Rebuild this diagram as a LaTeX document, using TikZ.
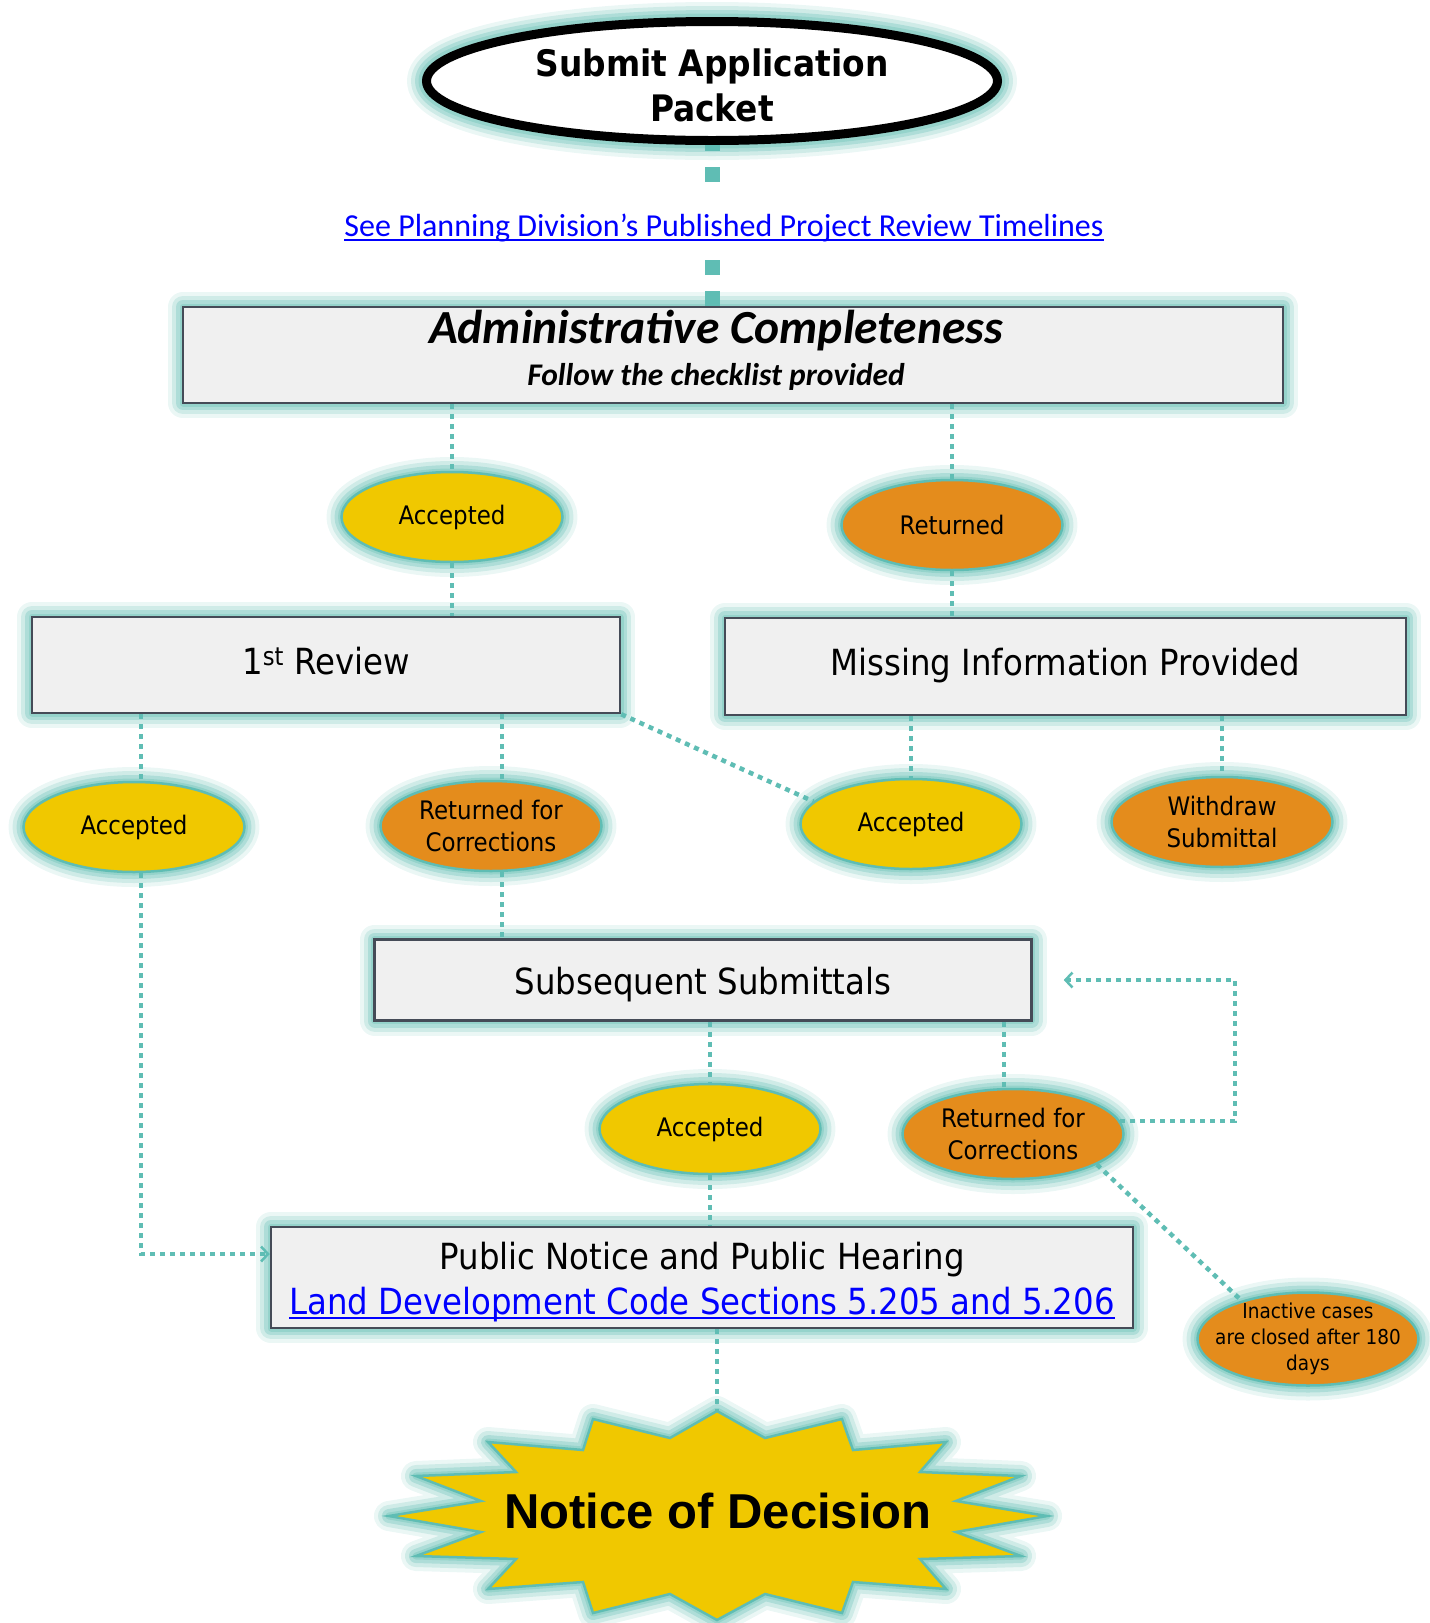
\documentclass[tikz,border=0pt]{standalone}
\usepackage{fontspec}
\usetikzlibrary{arrows.meta,shapes.geometric,calc}
\newfontfamily\tahfont[FakeStretch=0.9]{DejaVu Sans}
\newfontfamily\calfont{Carlito}
\newfontfamily\arifont{Liberation Sans}
\newcommand\myul[2]{\setbox0=\hbox{#2}\rlap{\rule[-#1]{\wd0}{2pt}}\box0}
\newcommand\shiftv[2]{\raisebox{#1}[\height][\depth]{#2}}
\definecolor{glowc}{HTML}{8ED0C8}
\definecolor{tealc}{HTML}{5FBDB4}
\definecolor{yelc}{HTML}{F0C800}
\definecolor{orgc}{HTML}{E48C1C}
\definecolor{boxf}{HTML}{F0F0F0}
\definecolor{boxd}{HTML}{454B57}
\definecolor{linkb}{HTML}{0000FF}
\begin{document}
\begin{tikzpicture}[x=1pt,y=-1pt,
  glow/.style={preaction={draw=glowc,line width=#1+30pt,draw opacity=0.18,line join=round},
               preaction={draw=glowc,line width=#1+22pt,draw opacity=0.3,line join=round},
               preaction={draw=glowc,line width=#1+14pt,draw opacity=0.5,line join=round},
               preaction={draw=glowc,line width=#1+7pt,draw opacity=0.8,line join=round}},
  glow/.default=0pt,
  sapn/.style={glow=9pt, ellipse, draw=black, line width=9pt, fill=white, inner sep=0pt,
               minimum width=571pt, minimum height=119pt, align=center,
               font=\tahfont\bfseries\fontsize{36.5}{45}\selectfont},
  boxn/.style={glow, draw=boxd, line width=2.5pt, fill=boxf, inner sep=0pt,
               font=\tahfont\fontsize{36}{45}\selectfont},
  elln/.style={glow, ellipse, draw=tealc, line width=2.5pt, inner sep=0pt,
               minimum width=221pt, minimum height=90pt, align=center,
               font=\tahfont\fontsize{25.5}{32}\selectfont},
  accn/.style={elln, fill=yelc},
  retn/.style={elln, fill=orgc},
  conn/.style={draw=tealc, line width=4.5pt, dash pattern=on 5pt off 5pt},
  bigconn/.style={draw=tealc, line width=15pt, dash pattern=on 15pt off 16pt, dash phase=9pt},
  arr/.style={-{Straight Barb[length=7pt,width=15pt,line width=2.5pt]}}
]
\useasboundingbox (0,0) rectangle (1430,1623);

% top ellipse
\node[sapn] (sap) at (712,81) {\rule{0pt}{36pt}Submit Application\\Packet};

% boxes
\node[boxn, minimum width=1100pt, minimum height=96pt] (admin) at (733,355) {};
\node[anchor=base, font=\calfont\bfseries\itshape\fontsize{47.5}{50}\selectfont] (admint) at (716,343) {Administrative Completeness};
\node[anchor=base, font=\calfont\bfseries\itshape\fontsize{31.5}{34}\selectfont] (admins) at (716,385) {Follow the checklist provided};

\node[boxn, minimum width=588pt, minimum height=96pt] (rev) at (326,665) {\shiftv{4pt}{1\textsuperscript{st} Review}};
\node[boxn, minimum width=681pt, minimum height=97pt] (miss) at (1065.5,666.5) {\shiftv{1pt}{Missing Information Provided}};
\node[boxn, minimum width=657pt, minimum height=81pt] (sub) at (703,980) {\shiftv{-5pt}{Subsequent Submittals}};
\node[boxn, minimum width=862pt, minimum height=101pt, align=center] (pub) at (702,1277.5)
  {\rule{0pt}{36pt}Public Notice and Public Hearing\\ \textcolor{linkb}{\myul{5pt}{Land Development Code Sections 5.205 and 5.206}}};

% ellipses
\node[accn] (acc1) at (452,517) {Accepted};
\node[retn] (ret) at (952,525) {Returned};
\node[accn] (acc2) at (134,827) {Accepted};
\node[retn] (rfc1) at (491,826) {Returned for\\Corrections};
\node[accn] (acc3) at (911,824) {Accepted};
\node[retn] (wd) at (1222,822) {Withdraw\\Submittal};
\node[accn] (acc4) at (710,1129) {Accepted};
\node[retn] (rfc2) at (1013,1134) {Returned for\\Corrections};
\node[retn, minimum height=93pt, inner xsep=-20pt, inner ysep=-8pt,
      font=\tahfont\fontsize{20.5}{26}\selectfont] (inact) at (1308,1339)
  {Inactive cases\\are closed after 180\\days};

% starburst
\draw[glow, draw=tealc, line width=2.5pt, fill=yelc]
  (717,1411) -- (765,1438) -- (842,1419) -- (853,1450) -- (946,1442) -- (920,1472)
  -- (1021,1476) -- (956,1501) -- (1047,1516) -- (956,1532) -- (1021,1556) -- (920,1559)
  -- (946,1589) -- (853,1582) -- (842,1613) -- (765,1594) -- (717,1620) -- (670,1594)
  -- (593,1613) -- (583,1582) -- (488,1589) -- (516,1559) -- (416,1556) -- (481,1532)
  -- (389,1516) -- (481,1501) -- (416,1476) -- (516,1472) -- (488,1442) -- (583,1450)
  -- (593,1419) -- (670,1438) -- cycle;
\coordinate (startop) at (717,1411);
\node[anchor=base, font=\arifont\bfseries\fontsize{49}{56}\selectfont] (nod) at (718,1528) {Notice of Decision};

% helper coordinates
\coordinate (xa2) at (141,0);
\coordinate (xr1) at (502,0);
\coordinate (xr2) at (1004,0);
\coordinate (lx) at (1235,0);
\coordinate (ya2) at (0,1254);
\coordinate (subin) at ($(sub.east)+(31,0)$);

% connectors
\draw[bigconn] (sap.south) -- (admin.north -| sap.south);
\draw[conn] (admin.south -| acc1.north) -- (acc1.north);
\draw[conn] (admin.south -| ret.north) -- (ret.north);
\draw[conn] (acc1.south) -- (rev.north -| acc1.south);
\draw[conn] (ret.south) -- (miss.north -| ret.south);
\draw[conn] (rev.south -| xa2) -- (acc2.north -| xa2);
\draw[conn] (rev.south -| xr1) -- (rfc1.north -| xr1);
\draw[conn] (rev.south east) -- (acc3.167);
\draw[conn] (miss.south -| acc3.north) -- (acc3.north);
\draw[conn] (miss.south -| wd.north) -- (wd.north);
\draw[conn, arr] (acc2.south -| xa2) -- (xa2 |- ya2) -- (pub.west |- ya2);
\draw[conn] (rfc1.south -| xr1) -- (sub.north -| xr1);
\draw[conn] (sub.south -| acc4.north) -- (acc4.north);
\draw[conn] (sub.south -| xr2) -- (rfc2.north -| xr2);
\draw[conn, arr] (rfc2.7) -- (rfc2.7 -| lx) -- (lx |- subin) -- (subin);
\draw[conn] (rfc2.-20) -- (inact.150);
\draw[conn] (acc4.south) -- (pub.north -| acc4.south);
\draw[conn] (pub.south -| startop) -- (startop);

% link text over the top connector
\node[fill=white, inner xsep=3pt, inner ysep=0pt, minimum height=62pt, text=linkb,
      font=\calfont\fontsize{32}{38}\selectfont] (link) at (724,228)
  {\myul{4pt}{See Planning Division’s Published Project Review Timelines}};
\end{tikzpicture}
\end{document}
